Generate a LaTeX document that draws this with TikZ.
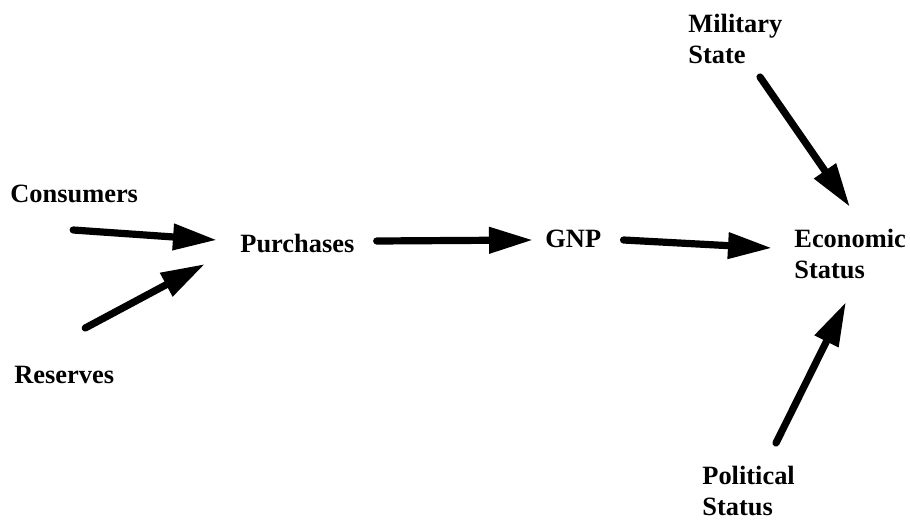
\documentclass[tikz,border=0pt]{standalone}
\usepackage{fontspec}
\setmainfont{Liberation Serif}
\usetikzlibrary{arrows.meta,calc}

\tikzset{
  lbl/.style={inner sep=0pt, align=left, font=\bfseries\fontsize{13.2}{15.5}\selectfont},
  flow/.style={line width=3.6pt, line cap=round, -{Triangle[length=22pt, width=12.5pt]}}
}

\begin{document}
\begin{tikzpicture}[x=0.5pt, y=-0.5pt]
            \useasboundingbox (0,0) rectangle (910,520);
            % variables (base = baseline of the last line)
            \node[lbl, anchor=base west] (cons) at (10,202) {Consumers};
            \node[lbl, anchor=base west] (res) at (14,383) {Reserves};
            \node[lbl, anchor=base west] (purch) at (240,252) {Purchases};
            \node[lbl, anchor=base west] (gnp) at (545,247) {GNP};
            \node[lbl, anchor=base west] (econ) at (794,278) {Economic\\Status};
            \node[lbl, anchor=base west] (mil) at (688,63) {Military\\State};
            \node[lbl, anchor=base west] (pol) at (702,515) {Political\\Status};
            % influences
            \draw[flow] ($(cons.base)+(-1,28)$) -- ($(purch.base west)+(-23,-12)$);
            \draw[flow] ($(res.base)+(21,-55)$) -- ($(purch.base west)+(-35,12)$);
            \draw[flow] ($(purch.base east)+(22,-11)$) -- ($(gnp.base west)+(-12,-7)$);
            \draw[flow] ($(gnp.base east)+(22,-7)$) -- ($(econ.base west)+(-22,-30)$);
            \draw[flow] ($(mil.base west)+(72,14)$) -- ($(econ.base west)+(56,-71)$);
            \draw[flow] ($(pol.base west)+(74,-72)$) -- ($(econ.base west)+(52,24)$);
        \end{tikzpicture}
\end{document}
